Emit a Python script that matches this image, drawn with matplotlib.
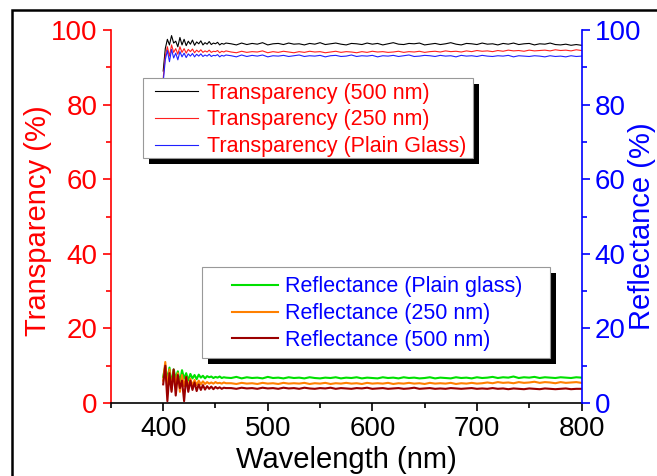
import matplotlib.pyplot as plt
import numpy as np
from matplotlib.patches import Rectangle

plt.rcParams['font.family'] = ['Liberation Sans', 'DejaVu Sans']

# wavelength grid: 2 nm steps in the noisy start, 5 nm afterwards
wl = np.concatenate([np.arange(400, 461, 2), np.arange(465, 801, 5)])

# transparency (%)
t_500 = [89, 95, 97.5, 96, 98.5, 96.5, 97, 95.5, 98, 96,
         97.5, 95.8, 97, 96.2, 97.3, 95.9, 96.8, 96.3, 97.1, 96,
         96.6, 96.2, 96.9, 96.1, 96.5, 96.3, 96.7, 96.0, 96.4, 96.2,
         96.5,
         96.3, 96.0, 96.5, 96.1, 96.4, 96.2, 96.6, 96.0, 96.3, 96.4,
         96.1, 96.5, 96.2, 96.3, 96.0, 96.4, 96.2, 96.6, 96.1, 96.3,
         96.5, 96.2, 96.0, 96.4, 96.3, 96.1, 96.5, 96.2, 96.4, 96.0,
         96.3, 96.6, 96.2, 96.1, 96.4, 96.3, 96.5, 96.0, 96.2, 96.4,
         96.1, 96.3, 96.6, 96.2, 96.0, 96.4, 96.3, 96.1, 96.5, 96.2,
         96.3, 96.0, 96.4, 96.2, 96.5, 96.1, 96.3, 96.4, 96.0, 96.3,
         96.2, 96.5, 96.1, 96.0, 96.2, 95.9, 96.1, 95.9]
t_250 = [87, 93, 95.5, 93, 96, 94, 95, 93.5, 95.5, 94,
         95, 93.8, 94.8, 94.2, 94.9, 93.9, 94.6, 94.1, 94.7, 94.0,
         94.4, 94.1, 94.6, 94.0, 94.3, 94.2, 94.5, 93.9, 94.3, 94.1,
         94.4,
         94.1, 93.9, 94.3, 94.0, 94.2, 94.1, 94.4, 93.9, 94.2, 94.0,
         94.3, 94.1, 93.9, 94.2, 94.0, 94.3, 94.1, 94.2, 93.9, 94.1,
         94.3, 94.0, 94.2, 94.1, 93.9, 94.2, 94.0, 94.3, 94.1, 94.2,
         94.0, 94.1, 94.3, 94.0, 94.2, 94.1, 94.3, 94.0, 94.2, 94.3,
         94.1, 94.4, 94.2, 94.3, 94.1, 94.4, 94.2, 94.5, 94.3, 94.4,
         94.2, 94.5, 94.3, 94.6, 94.4, 94.5, 94.3, 94.6, 94.4, 94.5,
         94.6, 94.4, 94.7, 94.5, 94.6, 94.4, 94.7, 94.5]
t_glass = [86, 92, 94.5, 91.5, 94.8, 92.5, 93.8, 92, 94.2, 92.8,
           93.8, 92.6, 93.6, 93.0, 93.7, 92.8, 93.5, 93.0, 93.6, 92.9,
           93.3, 93.0, 93.5, 92.9, 93.2, 93.1, 93.4, 92.8, 93.2, 93.0,
           93.3,
           93.1, 92.8, 93.3, 92.9, 93.2, 93.0, 93.3, 92.8, 93.1, 93.0,
           93.2, 92.9, 93.1, 93.3, 92.9, 93.1, 93.0, 93.2, 92.8, 93.1,
           93.2, 92.9, 93.0, 93.3, 92.9, 93.1, 93.0, 93.2, 92.8, 93.1,
           93.0, 93.2, 92.9, 93.1, 93.3, 92.9, 93.0, 93.2, 93.1, 92.9,
           93.2, 93.0, 93.1, 92.8, 93.2, 93.0, 93.1, 92.9, 93.2, 93.0,
           92.9, 93.1, 93.0, 93.2, 92.8, 93.1, 93.0, 92.9, 93.1, 93.0,
           92.8, 93.1, 92.9, 93.0, 92.8, 93.1, 92.9, 93.0]

# reflectance (%)
r_glass = [7, 10, 6, 9.5, 5, 9, 6.5, 8.5, 5.5, 8.8,
           6.5, 8, 6, 7.8, 6.6, 7.5, 6.4, 7.6, 6.8, 7.3,
           6.6, 7.2, 6.9, 7.1, 6.7, 7.0, 6.8, 7.1, 6.7, 6.9,
           6.8,
           6.7, 7.0, 6.6, 6.9, 6.7, 6.8, 6.6, 7.0, 6.7, 6.8,
           6.6, 6.9, 6.7, 6.8, 6.6, 6.9, 6.7, 6.6, 6.8, 6.7,
           6.9, 6.6, 6.8, 6.7, 6.9, 6.6, 6.8, 6.7, 6.6, 6.9,
           6.7, 6.8, 6.6, 6.9, 6.7, 6.8, 6.6, 6.7, 6.9, 6.6,
           6.8, 6.7, 6.6, 6.9, 6.7, 6.8, 6.6, 6.9, 6.7, 6.8,
           7.0, 6.7, 6.9, 6.8, 7.1, 6.7, 6.9, 6.8, 7.0, 6.7,
           6.9, 6.8, 6.7, 6.9, 6.8, 6.7, 6.9, 6.8]
r_250 = [6, 11, 4, 9, 3.5, 8.5, 5, 8, 3, 7.5,
         4.5, 7, 4.2, 6.5, 4.6, 6.2, 4.8, 6.0, 5.0, 5.8,
         5.1, 5.6, 5.2, 5.5, 5.2, 5.6, 5.3, 5.4, 5.2, 5.5,
         5.3,
         5.3, 5.1, 5.4, 5.2, 5.3, 5.1, 5.4, 5.2, 5.3, 5.1,
         5.4, 5.2, 5.3, 5.2, 5.4, 5.1, 5.3, 5.2, 5.4, 5.1,
         5.3, 5.2, 5.4, 5.2, 5.3, 5.1, 5.4, 5.2, 5.3, 5.2,
         5.4, 5.1, 5.3, 5.2, 5.4, 5.2, 5.3, 5.1, 5.4, 5.2,
         5.3, 5.2, 5.4, 5.1, 5.3, 5.2, 5.4, 5.2, 5.3, 5.5,
         5.3, 5.6, 5.4, 5.5, 5.3, 5.6, 5.4, 5.5, 5.7, 5.4,
         5.6, 5.5, 5.3, 5.6, 5.4, 5.5, 5.6, 5.4]
r_500 = [5, 10, 0.5, 8, 3, 9, 2, 7.5, 4, 6,
         0.5, 7, 3, 6, 3.5, 5.5, 3.2, 5, 3.5, 4.8,
         3.6, 4.5, 3.8, 4.4, 3.7, 4.3, 3.9, 4.2, 3.8, 4.1,
         4.0,
         4.0, 3.8, 4.1, 3.9, 4.0, 3.8, 4.1, 3.9, 4.0, 3.8,
         4.1, 3.9, 4.0, 3.8, 4.1, 3.9, 3.8, 4.0, 3.9, 4.1,
         3.8, 4.0, 3.9, 3.8, 4.0, 3.9, 4.1, 3.8, 3.9, 4.0,
         3.8, 3.9, 4.0, 3.8, 3.9, 4.1, 3.8, 3.9, 4.0, 3.8,
         3.9, 3.8, 4.0, 3.9, 3.8, 3.9, 4.0, 3.8, 3.9, 3.8,
         4.0, 3.8, 3.9, 3.7, 3.9, 3.8, 3.7, 3.9, 3.8, 3.7,
         3.9, 3.8, 3.7, 3.8, 3.9, 3.7, 3.8, 3.8]

fig = plt.figure(figsize=(6.57, 4.76), dpi=100)
ax = fig.add_axes([110.9 / 657, 1 - 403 / 476, 470.6 / 657, 373 / 476])
ax2 = ax.twinx()

lt1, = ax.plot(wl, t_500, color='black', lw=0.8)
lt2, = ax.plot(wl, t_250, color='#ff2020', lw=0.8)
lt3, = ax.plot(wl, t_glass, color='#2020ff', lw=0.8)
lr1, = ax2.plot(wl, r_glass, color='#00e000', lw=1.5)
lr2, = ax2.plot(wl, r_250, color='#ff8000', lw=1.5)
lr3, = ax2.plot(wl, r_500, color='#9b0000', lw=1.5)

ax.set_xlim(350, 800)
ax.set_ylim(0, 100)
ax2.set_ylim(0, 100)
ax.set_xticks(np.arange(400, 801, 100))
ax.set_xticks(np.arange(350, 801, 50), minor=True)
for a in (ax, ax2):
    a.set_yticks(np.arange(0, 101, 20))
    a.set_yticks(np.arange(0, 101, 10), minor=True)

ax.spines['top'].set_visible(False)
ax.spines['right'].set_visible(False)
ax2.spines['top'].set_visible(False)
ax2.spines['left'].set_visible(False)
ax2.spines['bottom'].set_visible(False)
ax.spines['left'].set_color('red')
ax2.spines['right'].set_color('blue')
for s in (ax.spines['left'], ax.spines['bottom'], ax2.spines['right']):
    s.set_linewidth(1.2)

ax.tick_params(axis='y', which='both', colors='red', labelsize=20, direction='out')
ax.tick_params(axis='x', which='both', colors='black', labelsize=20, direction='out')
ax2.tick_params(axis='y', which='both', colors='blue', labelsize=20, direction='out')
for a in (ax, ax2):
    a.tick_params(which='major', length=6, width=1.2)
    a.tick_params(which='minor', length=3.5, width=1.2)

ax.set_xlabel('Wavelength (nm)', fontsize=21, labelpad=3)
ax.set_ylabel('Transparency (%)', fontsize=21, color='red')
ax.yaxis.set_label_coords(-0.125, 0.49)
ax2.set_ylabel('Reflectance (%)', fontsize=21, color='blue')
ax2.yaxis.set_label_coords(1.099, 0.475)

# legend boxes with a solid black drop shadow
W, H = 657, 476
for x0, y0, x1, y1 in [(143, 78, 473, 158), (202, 267, 550, 358)]:
    fig.add_artist(Rectangle(((x0 + 6) / W, 1 - (y1 + 6) / H), (x1 - x0) / W, (y1 - y0) / H,
                             transform=fig.transFigure, facecolor='black', edgecolor='none', zorder=3))
    fig.add_artist(Rectangle((x0 / W, 1 - y1 / H), (x1 - x0) / W, (y1 - y0) / H,
                             transform=fig.transFigure, facecolor='white', edgecolor='#999999',
                             lw=0.8, zorder=3.5))

fig.legend([lt1, lt2, lt3],
           ['Transparency (500 nm)', 'Transparency (250 nm)', 'Transparency (Plain Glass)'],
           loc='center left', bbox_to_anchor=(155 / W, 1 - 120 / H), frameon=False,
           borderpad=0, borderaxespad=0, handlelength=2.0, handletextpad=0.4,
           labelspacing=0.27, fontsize=15.5, labelcolor='red')
fig.legend([lr1, lr2, lr3],
           ['Reflectance (Plain glass)', 'Reflectance (250 nm)', 'Reflectance (500 nm)'],
           loc='center left', bbox_to_anchor=(232 / W, 1 - 313.7 / H), frameon=False,
           borderpad=0, borderaxespad=0, handlelength=2.15, handletextpad=0.33,
           labelspacing=0.27, fontsize=15.5, labelcolor='blue')

# outer frame line (only left and top edges are inside the picture)
fig.add_artist(Rectangle((12 / W, -0.5), 2, 1.5 - 10 / H, transform=fig.transFigure,
                         facecolor='none', edgecolor='black', lw=1.8, zorder=10))

fig.savefig('out.png', dpi=100)
